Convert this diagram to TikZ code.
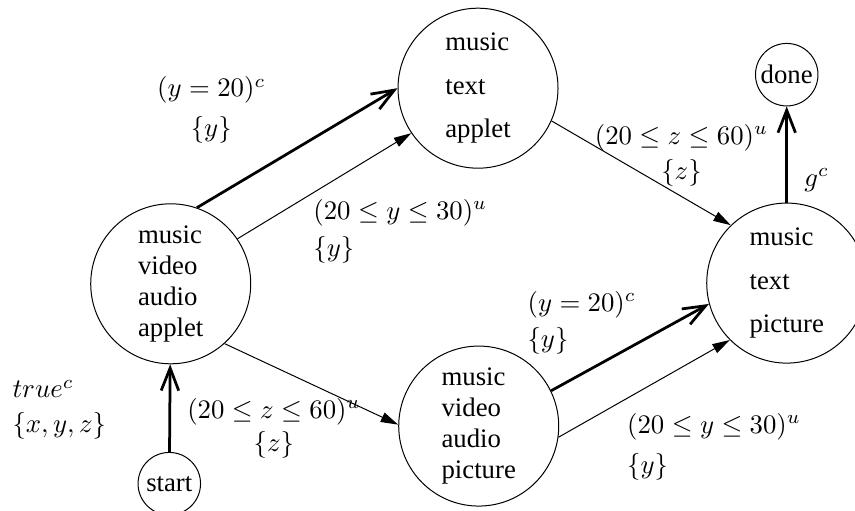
\RequirePackage{fix-cm}
\documentclass[tikz,border=0pt]{standalone}
\usepackage[no-math]{fontspec}
\setmainfont{Liberation Serif}
\usetikzlibrary{arrows.meta}

\begin{document}
\begin{tikzpicture}[
    every node/.style={font=\fontsize{10.7pt}{12.4pt}\selectfont},
    place/.style={
      circle,
      draw,
      thin,
      minimum size=64pt,
      inner sep=0pt,
      align=left
    },
    terminal/.style={
      circle,
      draw,
      thin,
      minimum size=25pt,
      inner sep=0pt
    },
    must/.style={line width=1.1pt, -{Straight Barb[length=9pt,width=7pt]}},
    may/.style={thin, -{Triangle[length=7pt,width=4pt]}},
    guard/.style={inner sep=0pt}
  ]
    \useasboundingbox (0,0) rectangle (12.02,7.17);

    \node[place] (mvaa) at (2.40,3.18) {music\\video\\audio\\applet};
    \node[place] (mta) at (6.72,5.93) {music\\[5pt]text\\[5pt]applet};
    \node[place] (mvap) at (6.73,1.18) {music\\video\\audio\\picture};
    \node[place] (mtp) at (11.06,3.19) {music\\[5pt]text\\[5pt]picture};
    \node[terminal] (start) at (2.38,0.37) {start};
    \node[terminal] (done) at (11.06,6.12) {done};

    \draw[must] (start) -- (mvaa);
    \draw[must] (mvaa.71) -- (mta.180);
    \draw[may] (mvaa.34) -- (mta.214);
    \draw[may] (mvaa.-48) -- (mvap.179);
    \draw[may] (mta.-24) -- (mtp.134);
    \draw[must] (mvap.26) -- (mtp.195);
    \draw[may] (mvap.-8) -- (mtp.225);
    \draw[must] (mtp) -- (done);

    \node[guard, align=center] (gup) at (2.97,5.62) {$(y=20)^c$\\[3.6pt]$\{y\}$};
    \node[guard, align=left, anchor=west] (gupm) at (4.40,3.92) {$(20\le y\le 30)^u$\\[2.6pt]$\{y\}$};
    \node[guard, align=center] (gright) at (9.58,4.99) {$(20\le z\le 60)^u$\\[1.6pt]$\{z\}$};
    \node[guard, align=center] (gdown) at (3.85,1.15) {$(20\le z\le 60)^u$\\[0.8pt]$\{z\}$};
    \node[guard, align=left, anchor=west] (glow) at (7.41,2.63) {$(y=20)^c$\\[2pt]$\{y\}$};
    \node[guard, align=left, anchor=west] (glowm) at (8.81,0.89) {$(20\le y\le 30)^u$\\[3.6pt]$\{y\}$};
    \node[guard, align=left, anchor=west] (ginit) at (0.17,1.41) {$true^c$\\[1.6pt]$\{x,y,z\}$};
    \node[guard, anchor=west] (gend) at (11.30,4.64) {$g^c$};
  \end{tikzpicture}
\end{document}
